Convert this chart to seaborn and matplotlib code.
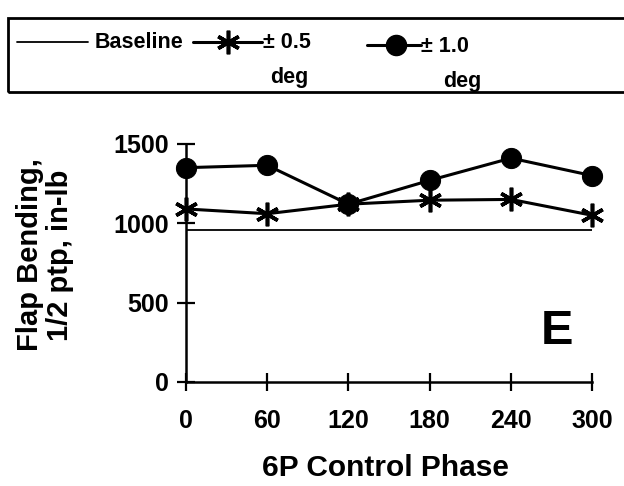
import matplotlib
matplotlib.use('Agg')
import matplotlib.pyplot as plt
from matplotlib.lines import Line2D
from matplotlib.patches import Rectangle
import seaborn as sns
import pandas as pd

# データ
phase = [0, 60, 120, 180, 240, 300]
baseline = [960, 960, 960, 960, 960, 960]
pm05 = [1090, 1060, 1120, 1145, 1150, 1050]
pm10 = [1350, 1365, 1120, 1270, 1410, 1300]
x_ticks = [0, 60, 120, 180, 240, 300]
y_ticks = [0, 500, 1000, 1500]

W, H = 624, 486

sns.set_style("ticks")
plt.rcParams['font.family'] = ['Liberation Sans', 'DejaVu Sans']
plt.rcParams['font.weight'] = 'bold'
for k in ['text.color', 'axes.labelcolor', 'xtick.color', 'ytick.color', 'axes.edgecolor']:
    plt.rcParams[k] = 'black'

fig = plt.figure(figsize=(W / 100, H / 100), dpi=100)
ax = fig.add_axes([0.298, 0.214, 0.651, 0.490])

df = pd.DataFrame({'phase': phase, 'baseline': baseline, 'pm05': pm05, 'pm10': pm10})

star = (6, 2, 0)
sns.lineplot(data=df, x='phase', y='baseline', ax=ax, color='black', lw=1.3)
sns.lineplot(data=df, x='phase', y='pm05', ax=ax, color='black', lw=2.2,
             marker=star, markersize=17, markeredgewidth=2.6, markeredgecolor='black',
             clip_on=False)
sns.lineplot(data=df, x='phase', y='pm10', ax=ax, color='black', lw=2.2,
             marker='o', markersize=14.5, markeredgecolor='black', clip_on=False)

ax.set_xlim(0, 300)
ax.set_ylim(0, 1500)
ax.set_xticks(x_ticks)
ax.set_yticks(y_ticks)
sns.despine(ax=ax)
for s in ['left', 'bottom']:
    ax.spines[s].set_linewidth(1.8)
ax.tick_params(axis='both', direction='inout', length=13, width=1.6,
               labelsize=18, color='black')
ax.tick_params(axis='x', pad=13)
ax.tick_params(axis='y', pad=6)
ax.set_xlabel('')
ax.set_ylabel('')

# 軸ラベル
fig.text(385 / W, 1 - 468 / H, '6P Control Phase', fontsize=21.5, fontweight='bold',
         ha='center', va='center')
fig.text(45 / W, 1 - 255 / H, 'Flap Bending,\n1/2 ptp, in-lb', fontsize=21,
         fontweight='bold', rotation=90, ha='center', va='center',
         multialignment='center', linespacing=1.1)
ax.text(557 / W, 1 - 332 / H, 'E', transform=fig.transFigure, fontsize=35,
        fontweight='bold', ha='center', va='center')


# 凡例（手描き）
def fx(px):
    return px / W


def fy(py):
    return 1 - py / H


fig.add_artist(Rectangle((fx(8), fy(92)), fx(660) - fx(8), fy(18) - fy(92),
                         transform=fig.transFigure, fill=False, lw=2, ec='black'))

fig.add_artist(Line2D([fx(17), fx(88)], [fy(42), fy(42)], transform=fig.transFigure,
                      color='black', lw=1.3))
fig.text(fx(95), fy(42), 'Baseline', fontsize=15.5, fontweight='bold', va='center')

fig.add_artist(Line2D([fx(193), fx(228), fx(262)], [fy(42)] * 3, transform=fig.transFigure,
                      color='black', lw=2.2, marker=star, markersize=17,
                      markeredgewidth=2.6, markevery=[1]))
fig.text(fx(263), fy(43), '± 0.5', fontsize=15.5, fontweight='bold', va='center')
fig.text(fx(270), fy(77), 'deg', fontsize=15.5, fontweight='bold', va='center')

fig.add_artist(Line2D([fx(367), fx(396), fx(421)], [fy(45)] * 3, transform=fig.transFigure,
                      color='black', lw=2.2, marker='o', markersize=14.5, markevery=[1]))
fig.text(fx(421), fy(46), '± 1.0', fontsize=15.5, fontweight='bold', va='center')
fig.text(fx(443), fy(82), 'deg', fontsize=15.5, fontweight='bold', va='center')

fig.savefig('out.png', dpi=100)
